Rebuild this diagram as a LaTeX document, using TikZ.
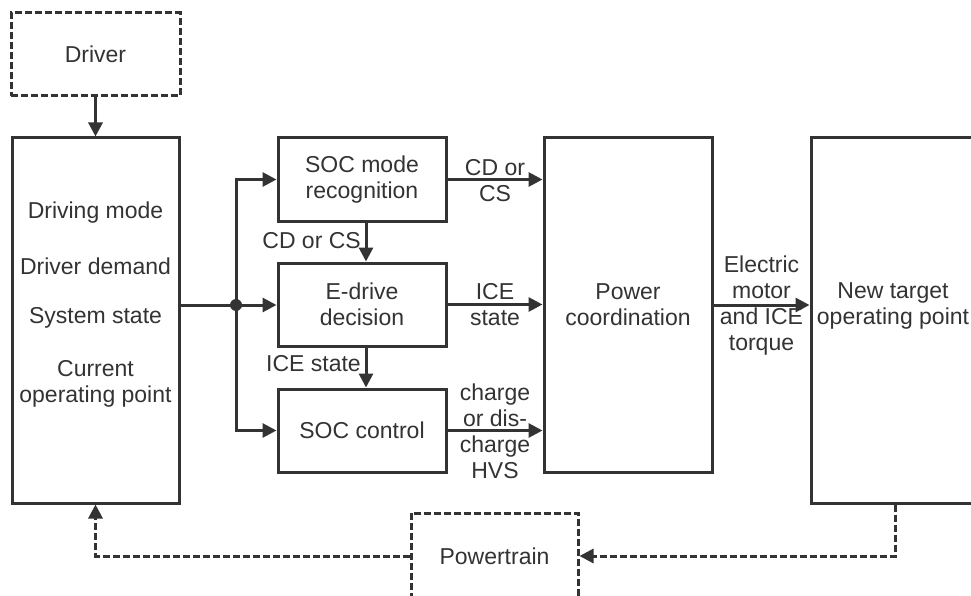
\documentclass[tikz,border=0pt]{standalone}
\usepackage{fontspec}
\setmainfont{Liberation Sans}
\usetikzlibrary{arrows.meta}
\definecolor{ink}{HTML}{333333}
\begin{document}
\begin{tikzpicture}[x=1pt,y=-1pt,
  every node/.style={font=\fontsize{23}{26}\selectfont, text=ink, align=center},
  blk/.style={draw=ink, line width=3pt, inner sep=0pt},
  dbox/.style={blk, dash pattern=on 7pt off 3pt},
  txt/.style={inner sep=0pt},
  conn/.style={draw=ink, line width=3pt, -{Triangle[length=14pt,width=14pt]}},
  dconn/.style={conn, dash pattern=on 7pt off 3pt},
  plain/.style={draw=ink, line width=3pt}]
\useasboundingbox (0,0) rectangle (971,596);
\clip (0,0) rectangle (971,596);
\fill[white] (0,0) rectangle (971,596);

% boxes
\node[dbox, minimum width=169pt, minimum height=83pt] (driver) at (95.5,54.5) {Driver};
\node[blk, minimum width=167pt, minimum height=365pt] (state) at (95.5,320.5) {};
\node[blk, minimum width=168pt, minimum height=83pt] (socmode) at (362,179.5) {SOC mode\\recognition};
\node[blk, minimum width=168pt, minimum height=83pt] (edrive) at (362,304.5) {E-drive\\decision};
\node[blk, minimum width=168pt, minimum height=83pt] (socctl) at (362,430.5) {SOC control};
\node[blk, minimum width=168pt, minimum height=334pt] (power) at (628,305) {Power\\coordination};
\node[blk, minimum width=168pt, minimum height=365pt] (target) at (895,320.5) {};
\node[dbox, minimum width=167pt, minimum height=86pt] (ptrain) at (494.5,556) {Powertrain};

% texts inside the tall boxes
\node[txt] (s1) at (95.5,213) {Driving mode};
\node[txt] (s2) at (95.5,266) {Driver demand};
\node[txt] (s3) at (95.5,318) {System state};
\node[txt] (s4) at (95.5,384) {Current\\operating point};
\node[txt] (t1) at (893,306) {New target\\operating point};

% connectors
\coordinate (j) at (236,305);
\draw[conn] (driver) -- (state);
\draw[plain] (j -| state.east) -- (j);
\draw[conn] (j) -- (j -| edrive.west);
\draw[conn] (j) |- (socmode.west);
\draw[conn] (j) |- (socctl.west);
\fill[ink] (j) circle[radius=6pt];

\draw[conn] ([xshift=4pt]socmode.south) -- ([xshift=4pt]edrive.north);
\draw[conn] ([xshift=4pt]edrive.south) -- ([xshift=4pt]socctl.north);
\node[txt, anchor=east] (l1) at (361,241) {CD or CS};
\node[txt, anchor=east] (l2) at (361,364) {ICE state};

\draw[conn] (socmode.east) -- (socmode.east -| power.west);
\draw[conn] (edrive.east) -- (edrive.east -| power.west);
\draw[conn] (socctl.east) -- (socctl.east -| power.west);
\node[txt] (l3) at (495,181) {CD or\\CS};
\node[txt] (l4) at (495,305) {ICE\\state};
\node[txt] (l5) at (495,431) {charge\\or dis-\\charge\\HVS};

\draw[conn] (power.east) -- (power.east -| target.west);
\node[txt] (l6) at (761.5,306) {Electric\\motor\\and ICE\\torque};

% feedback
\draw[dconn] (target.south) |- (ptrain.east);
\draw[dconn] (ptrain.west) -| (state.south);
\end{tikzpicture}
\end{document}
